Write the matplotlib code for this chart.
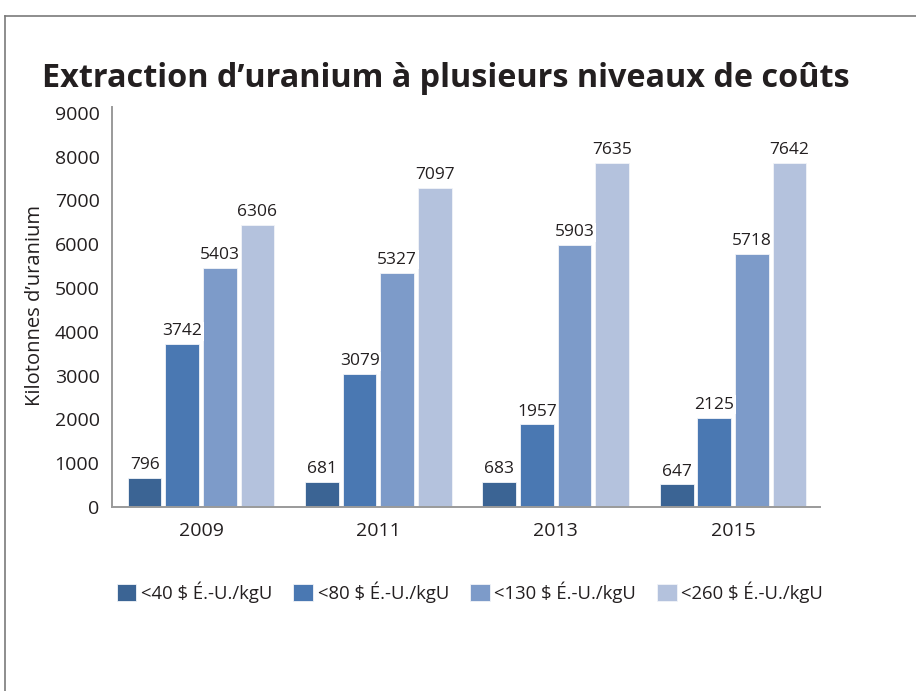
import matplotlib
matplotlib.use("Agg")
import matplotlib.pyplot as plt
from matplotlib.lines import Line2D
import numpy as np

years = ["2009", "2011", "2013", "2015"]
series_names = ["<40 $ É.-U./kgU", "<80 $ É.-U./kgU", "<130 $ É.-U./kgU", "<260 $ É.-U./kgU"]
# printed labels
lab_40 = [796, 681, 683, 647]
lab_80 = [3742, 3079, 1957, 2125]
lab_130 = [5403, 5327, 5903, 5718]
lab_260 = [6306, 7097, 7635, 7642]
# bar heights as drawn in the picture
bar_40 = [670, 575, 567, 515]
bar_80 = [3717, 3034, 1885, 2038]
bar_130 = [5448, 5349, 5977, 5770]
bar_260 = [6437, 7280, 7847, 7847]
yticks = [0, 1000, 2000, 3000, 4000, 5000, 6000, 7000, 8000, 9000]

colors = ["#3b6494", "#4a78b2", "#7d9bc9", "#b4c2dd"]
txt = "#231f20"
FONT = "Open Sans"

W, H = 916, 691
fig = plt.figure(figsize=(W / 100, H / 100), dpi=100)
ax = fig.add_axes([112 / W, 1 - 507 / H, (820 - 112) / W, 400 / H])

x = np.arange(len(years))
slot = 0.212
bw = 0.19
bars_all = [bar_40, bar_80, bar_130, bar_260]
labs_all = [lab_40, lab_80, lab_130, lab_260]
handles = []
for i, (bh, lb, c, nm) in enumerate(zip(bars_all, labs_all, colors, series_names)):
    pos = x + (i - 1.5) * slot
    b = ax.bar(pos, bh, width=bw, color=c, edgecolor="#f2f4f8", linewidth=0.6, label=nm, zorder=2)
    handles.append(b)
    for px, h, l in zip(pos, bh, lb):
        ax.annotate(str(l), (px, h), xytext=(0, 3.5), textcoords="offset points",
                    ha="center", va="bottom", fontsize=12.5, family=FONT, color=txt,
                    bbox=dict(facecolor="white", edgecolor="none", pad=1.0), zorder=3)

ax.set_xlim(-0.502, 3.49)
ax.set_ylim(0, 9130)
ax.set_yticks(yticks)
ax.set_yticklabels([str(v) for v in yticks], family=FONT, fontsize=14, color=txt)
ax.set_xticks(x)
ax.set_xticklabels(years, family=FONT, fontsize=14, color=txt)
ax.tick_params(axis="y", length=0, pad=9)
ax.tick_params(axis="x", length=0, pad=11)
for s in ["top", "right"]:
    ax.spines[s].set_visible(False)
for s in ["left", "bottom"]:
    ax.spines[s].set_color("#9a9a9a")
    ax.spines[s].set_linewidth(1.4)

ax.set_ylabel("Kilotonnes d’uranium", family=FONT, fontsize=14.5, color=txt)
ax.yaxis.set_label_coords(-0.095, 0.503)

# title, fitted to the reference width
t = fig.text(42 / W, 1 - 87 / H, "Extraction d’uranium à plusieurs niveaux de coûts",
             family="Open Sans", fontweight="bold", fontsize=22, color=txt,
             ha="left", va="baseline")
fig.canvas.draw()
r = fig.canvas.get_renderer()
wpx = t.get_window_extent(r).width
t.set_fontsize(22 * 805 / wpx)

leg = fig.legend(handles=handles, labels=series_names, loc="center",
                 bbox_to_anchor=(470 / W, 1 - 592 / H), ncol=4, frameon=False,
                 prop={"family": FONT, "size": 13.3}, handlelength=1.05, handleheight=1.05,
                 handletextpad=0.25, columnspacing=1.15, borderaxespad=0)
for tx in leg.get_texts():
    tx.set_color(txt)

# frame lines
fig.add_artist(Line2D([5 / W, 1], [1 - 16 / H, 1 - 16 / H], color="#7a7a7a", linewidth=1.2, transform=fig.transFigure))
fig.add_artist(Line2D([5 / W, 5 / W], [0, 1 - 16 / H], color="#7a7a7a", linewidth=1.2, transform=fig.transFigure))

fig.savefig("out.png", dpi=100)
